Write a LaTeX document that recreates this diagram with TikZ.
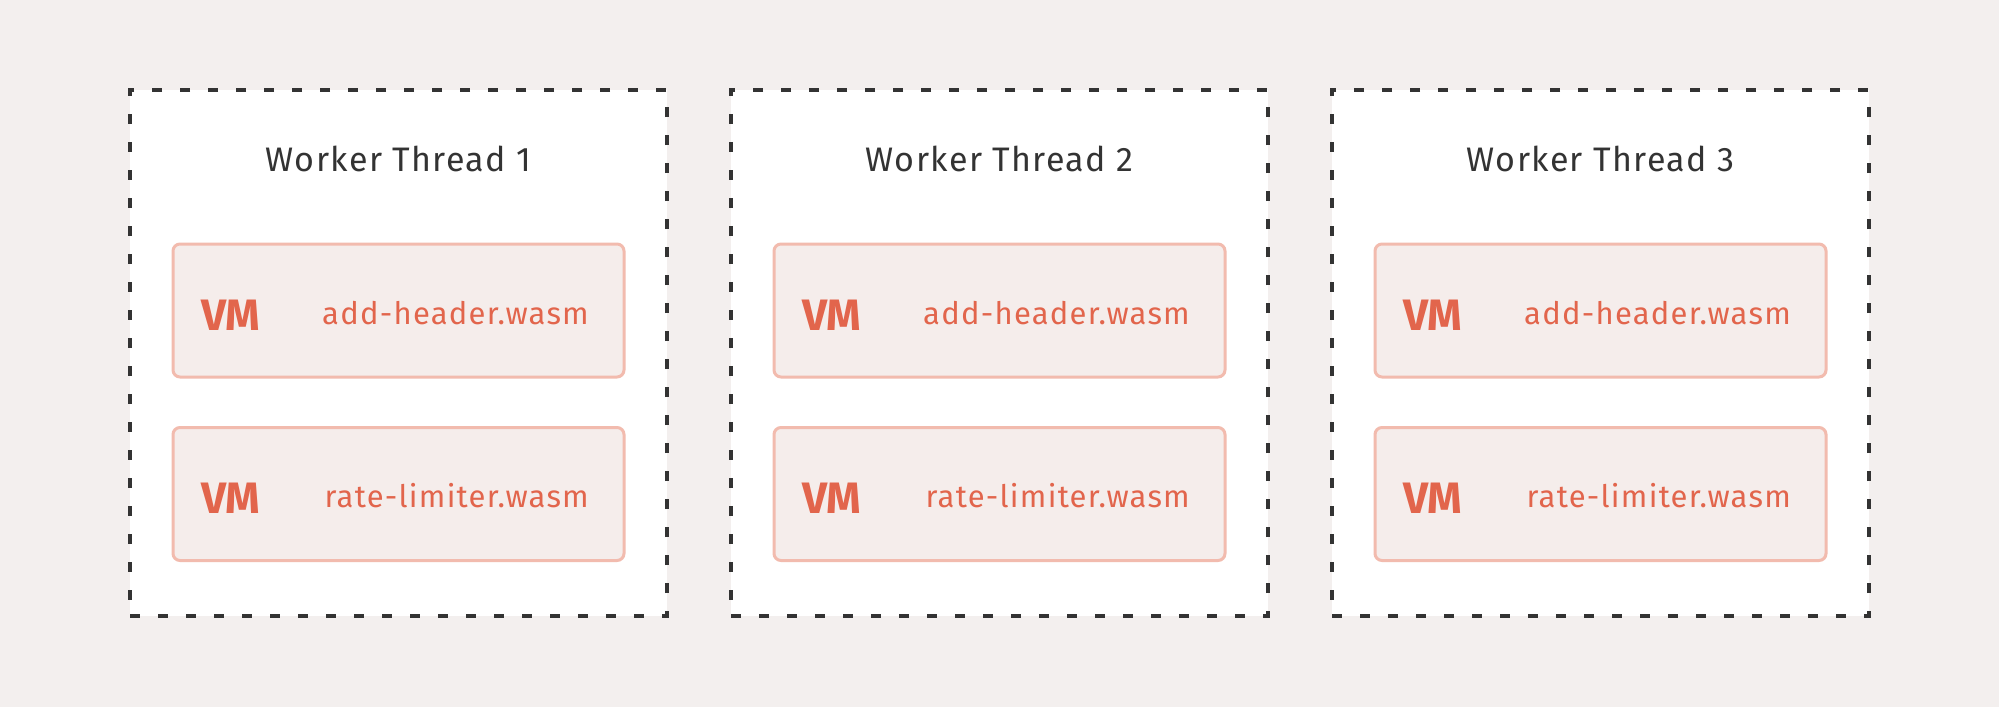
\documentclass[tikz,border=0pt]{standalone}
\usepackage{fontspec}
\setmainfont{Fira Sans}
\newfontfamily\widefont[LetterSpace=4]{Fira Sans}
\definecolor{bg}{HTML}{F3EFEE}
\definecolor{dk}{HTML}{333333}
\definecolor{vmbord}{HTML}{F2BBAE}
\definecolor{vmfill}{HTML}{F5EDEB}
\definecolor{vmtext}{HTML}{E2654C}
\tikzset{
  thread/.style={draw=dk, fill=white, line width=3.5pt, dash pattern=on 10pt off 18pt,
    minimum width=537pt, minimum height=526pt, inner sep=0pt, outer sep=0pt},
  vmbox/.style={draw=vmbord, fill=vmfill, line width=3pt, rounded corners=7pt,
    minimum width=451pt, minimum height=133pt, inner sep=0pt, outer sep=0pt},
  titlelbl/.style={font=\widefont\fontsize{34}{40}\selectfont, text=dk, inner sep=0pt, anchor=base},
  vmlbl/.style={font=\fontsize{44}{50}\selectfont\bfseries, text=vmtext, inner sep=0pt, anchor=base west},
  filelbl/.style={font=\widefont\fontsize{31}{36}\selectfont, text=vmtext, inner sep=0pt, anchor=base east},
}
\begin{document}
\begin{tikzpicture}[x=1pt,y=-1pt]
\path[fill=bg, use as bounding box] (0,0) rectangle (1999,707);
\foreach \i/\n in {0/1,1/2,2/3}{
  \pgfmathsetmacro{\xo}{130+601*\i}
  \pgfmathsetmacro{\xc}{\xo+268.5}
  \node[thread] (thread\n) at (\xc,353) {};
  \node[titlelbl] (title\n) at (\xc,171.7) {Worker Thread \n};
  \node[vmbox] (boxa\n) at (\xc,310.5) {};
  \node[vmbox] (boxb\n) at (\xc,494) {};
  \node[vmlbl] (vma\n) at (\xo+71,330) {VM};
  \node[filelbl] (filea\n) at (\xo+459,324) {add-header.wasm};
  \node[vmlbl] (vmb\n) at (\xo+71,513.5) {VM};
  \node[filelbl] (fileb\n) at (\xo+459,507) {rate-limiter.wasm};
}
\end{tikzpicture}
\end{document}
